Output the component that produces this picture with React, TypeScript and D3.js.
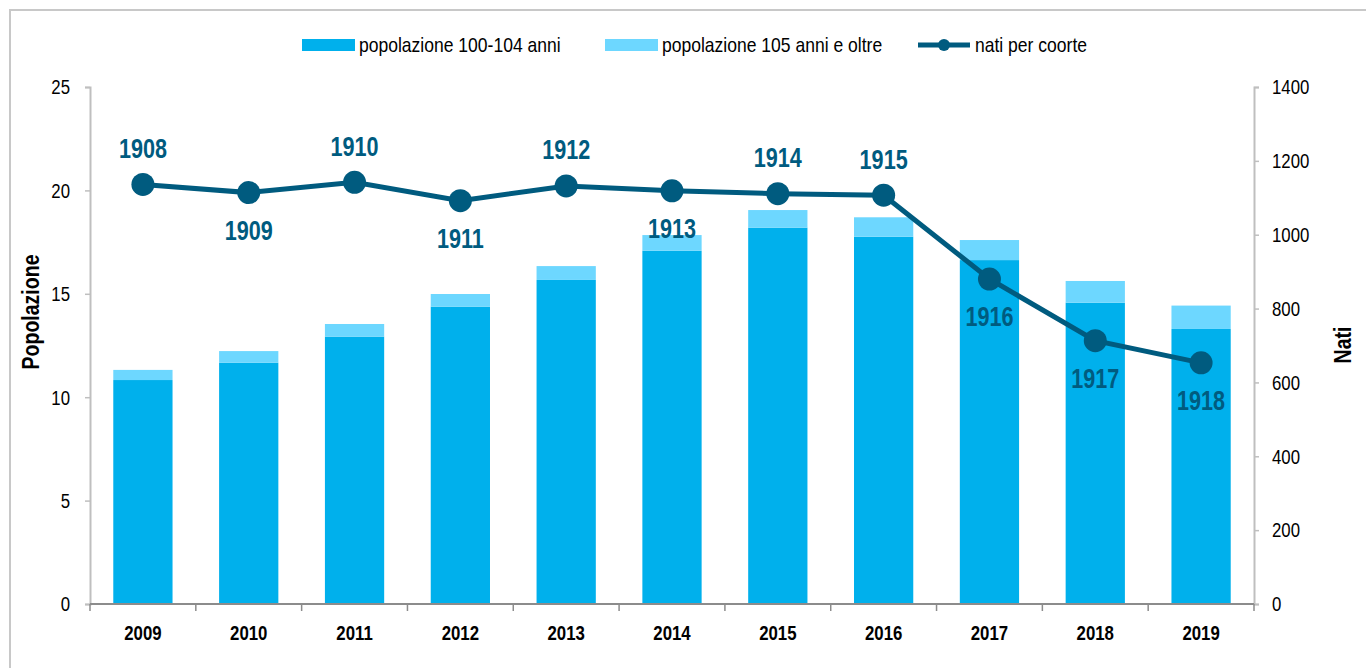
import React, { useEffect, useRef } from 'react'
import * as d3 from 'd3'

// data
const years = ['2009', '2010', '2011', '2012', '2013', '2014', '2015', '2016', '2017', '2018', '2019']
const pop100to104 = [10.83, 11.67, 12.93, 14.38, 15.67, 17.08, 18.2, 17.76, 16.63, 14.57, 13.3]
const pop105plus = [0.49, 0.56, 0.61, 0.61, 0.67, 0.76, 0.85, 0.94, 0.97, 1.05, 1.13]
const births = [1136, 1114, 1142, 1092, 1132, 1119, 1111, 1107, 880, 713, 653]
const cohorts = ['1908', '1909', '1910', '1911', '1912', '1913', '1914', '1915', '1916', '1917', '1918']
const labelPos = ['above', 'below', 'above', 'below', 'above', 'below', 'above', 'above', 'below', 'below', 'below']
const leftTicks = [0, 5, 10, 15, 20, 25]
const rightTicks = [0, 200, 400, 600, 800, 1000, 1200, 1400]

const DARK = '#00B0EC'
const LIGHT = '#6DD7FF'
const LINE = '#005B7F'
const FONT = "'Liberation Sans', Arial, sans-serif"
// the original uses a narrow font; squeeze the text horizontally instead
const SQ = 0.8

export default function App() {
    const ref = useRef<SVGSVGElement>(null)

    useEffect(() => {
        const svg = d3.select(ref.current)
        svg.selectAll('*').remove()

        const width = 1366
        const height = 668
        const margin = { top: 87, right: 112, bottom: 64, left: 90 }
        const graphWidth = width - margin.left - margin.right
        const graphHeight = height - margin.top - margin.bottom

        // narrow text helper
        const narrow = (g: any, x: number, y: number, txt: string, size: number, anchor = 'middle', bold = false, fill = '#000', sq = SQ) =>
            g.append('text')
                .attr('transform', `translate(${x}, ${y}) scale(${sq}, 1)`)
                .attr('dy', '0.35em')
                .attr('text-anchor', anchor)
                .attr('font-family', FONT)
                .attr('font-size', size)
                .attr('font-weight', bold ? 'bold' : 'normal')
                .attr('fill', fill)
                .text(txt)

        // frame
        svg.append('path')
            .attr('d', `M10,${height + 5} V10 H${width + 5}`)
            .attr('fill', 'none')
            .attr('stroke', '#c8c8c8')
            .attr('stroke-width', 2)

        const graph = svg.append('g')
            .attr('transform', `translate(${margin.left}, ${margin.top})`)

        const x = d3.scaleBand().domain(years).range([0, graphWidth]).paddingInner(0.44).paddingOuter(0.22)
        const y = d3.scaleLinear().domain([0, 25]).range([graphHeight, 0])
        const y2 = d3.scaleLinear().domain([0, 1400]).range([graphHeight, 0])

        // bars
        const bars = graph.append('g')
        bars.selectAll('rect.dark')
            .data(years)
            .enter().append('rect')
            .attr('x', d => x(d)!)
            .attr('width', x.bandwidth())
            .attr('y', (d, i) => y(pop100to104[i]))
            .attr('height', (d, i) => graphHeight - y(pop100to104[i]))
            .attr('fill', DARK)
        bars.selectAll('rect.light')
            .data(years)
            .enter().append('rect')
            .attr('x', d => x(d)!)
            .attr('width', x.bandwidth())
            .attr('y', (d, i) => y(pop100to104[i] + pop105plus[i]))
            .attr('height', (d, i) => y(pop100to104[i]) - y(pop100to104[i] + pop105plus[i]))
            .attr('fill', LIGHT)

        // axes
        const axisColor = '#bfbfbf'
        const leftAxis = graph.append('g')
            .call(d3.axisLeft(y).tickValues(leftTicks).tickSize(5).tickFormat(() => ''))
        const rightAxis = graph.append('g')
            .attr('transform', `translate(${graphWidth}, 0)`)
            .call(d3.axisRight(y2).tickValues(rightTicks).tickSize(5).tickFormat(() => ''))
        ;[leftAxis, rightAxis].forEach(a => {
            a.select('.domain').attr('stroke', axisColor).attr('stroke-width', 2)
            a.selectAll('.tick line').attr('stroke', axisColor).attr('stroke-width', 1.5)
        })
        leftTicks.forEach(t => narrow(graph, -20, y(t), String(t), 21, 'end'))
        rightTicks.forEach(t => narrow(graph, graphWidth + 18, y2(t), d3.format('d')(t), 21, 'start'))

        // x axis
        const xAxis = graph.append('g').attr('transform', `translate(0, ${graphHeight})`)
        xAxis.append('line')
            .attr('x1', 0).attr('x2', graphWidth)
            .attr('stroke', '#8c8c8c').attr('stroke-width', 2)
        const step = x.step()
        xAxis.selectAll('line.tick')
            .data(d3.range(years.length + 1))
            .enter().append('line')
            .attr('x1', i => i * step).attr('x2', i => i * step)
            .attr('y1', 0).attr('y2', 7)
            .attr('stroke', '#8c8c8c').attr('stroke-width', 1.5)
        years.forEach(yr => narrow(xAxis, x(yr)! + x.bandwidth() / 2, 29, yr, 21, 'middle', true))

        // axis titles
        svg.append('text')
            .attr('transform', `translate(31, 312) rotate(-90) scale(0.85, 1)`)
            .attr('text-anchor', 'middle')
            .attr('dy', '0.35em')
            .attr('font-family', FONT).attr('font-weight', 'bold').attr('font-size', 23)
            .text('Popolazione')
        svg.append('text')
            .attr('transform', `translate(1343, 345) rotate(-90) scale(0.85, 1)`)
            .attr('text-anchor', 'middle')
            .attr('dy', '0.35em')
            .attr('font-family', FONT).attr('font-weight', 'bold').attr('font-size', 23)
            .text('Nati')

        // line
        const cx = (i: number) => x(years[i])! + x.bandwidth() / 2
        const line = d3.line<number>()
            .x((d, i) => cx(i))
            .y(d => y2(d))
        graph.append('path')
            .datum(births)
            .attr('fill', 'none')
            .attr('stroke', LINE)
            .attr('stroke-width', 5)
            .attr('d', line)
        graph.selectAll('circle.pt')
            .data(births)
            .enter().append('circle')
            .attr('cx', (d, i) => cx(i))
            .attr('cy', d => y2(d))
            .attr('r', 11.5)
            .attr('fill', LINE)

        // cohort labels
        births.forEach((b, i) => {
            const dy = labelPos[i] === 'above' ? -36 : 38
            narrow(graph, cx(i), y2(b) + dy, cohorts[i], 27, 'middle', true, LINE)
        })

        // legend
        const legend = svg.append('g').attr('transform', 'translate(0, 45)')
        const items = [
            { x: 302, label: 'popolazione 100-104 anni', type: 'bar', color: DARK },
            { x: 605, label: 'popolazione 105 anni e oltre', type: 'bar', color: LIGHT },
            { x: 918, label: 'nati per coorte', type: 'line', color: LINE },
        ]
        items.forEach(it => {
            if (it.type === 'bar') {
                legend.append('rect').attr('x', it.x).attr('y', -6).attr('width', 53).attr('height', 12).attr('fill', it.color)
            } else {
                legend.append('line').attr('x1', it.x).attr('x2', it.x + 52).attr('stroke', it.color).attr('stroke-width', 5)
                legend.append('circle').attr('cx', it.x + 26).attr('r', 6).attr('fill', it.color)
            }
            narrow(legend, it.x + 57, 0, it.label, 21, 'start', false, '#000', 0.835)
        })
    }, [])

    return (
        <div>
            <svg ref={ref} width={1366} height={668}
                style={{ position: 'absolute', left: 0, top: 0, background: '#fff' }} />
        </div>
    )
}
